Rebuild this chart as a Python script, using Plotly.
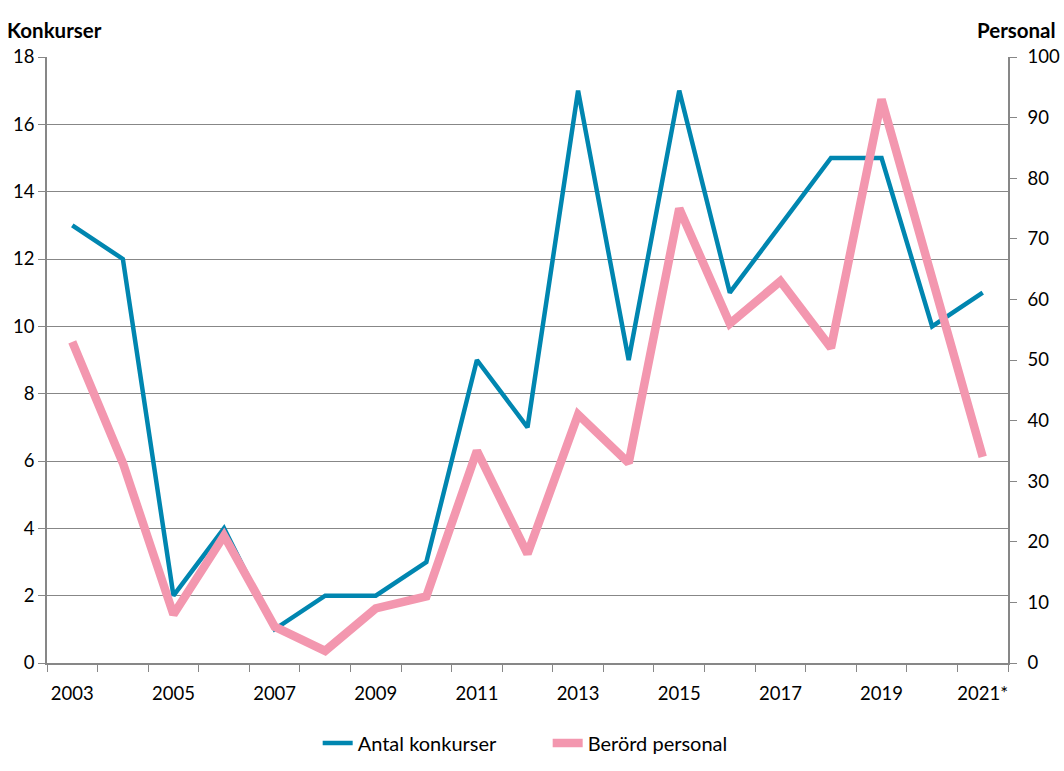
import plotly.graph_objects as go

years = ["2003", "2004", "2005", "2006", "2007", "2008", "2009", "2010", "2011",
         "2012", "2013", "2014", "2015", "2016", "2017", "2018", "2019", "2020", "2021*"]
antal_konkurser = [13, 12, 2, 4, 1, 2, 2, 3, 9, 7, 17, 9, 17, 11, 13, 15, 15, 10, 11]
berord_personal = [53, 33, 8, 21, 6, 2, 9, 11, 35, 18, 41, 33, 75, 56, 63, 52, 93, 63, 34]
tick_text = [y if i % 2 == 0 else "" for i, y in enumerate(years)]

BLUE = "#0086B0"
PINK = "#F397AF"
GRID = "#878787"
FONT = "Lato"

fig = go.Figure()
fig.add_trace(go.Scatter(x=years, y=antal_konkurser, name="Antal konkurser",
                         mode="lines", line=dict(color=BLUE, width=4.5),
                         yaxis="y"))
fig.add_trace(go.Scatter(x=years, y=berord_personal, name="Berörd personal",
                         mode="lines", line=dict(color=PINK, width=8.5),
                         yaxis="y2"))

fig.update_layout(
    width=1064, height=771,
    margin=dict(l=47, r=56, t=57, b=108),
    paper_bgcolor="white", plot_bgcolor="white",
    font=dict(family=FONT, size=18, color="black"),
    showlegend=True,
    legend=dict(orientation="h", x=0.521, xanchor="center",
                yref="container", y=1 - 743 / 771, yanchor="middle",
                font=dict(size=20), itemwidth=30, traceorder="normal",
                entrywidth=185, entrywidthmode="pixels"),
    xaxis=dict(type="category", range=[-0.5, 18.5], tickmode="array",
               tickvals=years, ticktext=tick_text, tickson="boundaries",
               ticks="outside", ticklen=7, tickcolor=GRID, showline=True,
               linecolor=GRID, linewidth=1.5, showgrid=False, zeroline=False,
               tickangle=0, automargin=False, ticklabelstandoff=13,
               tickfont=dict(size=18.5)),
    yaxis=dict(range=[0, 18], dtick=2, tick0=0, ticks="outside", ticklen=7,
               tickcolor=GRID, showline=True, linecolor=GRID, linewidth=1.5,
               showgrid=True, gridcolor=GRID, gridwidth=1, zeroline=False,
               automargin=False, tickfont=dict(size=18.5)),
    yaxis2=dict(range=[0, 100], dtick=10, tick0=0, overlaying="y", side="right",
                ticks="outside", ticklen=7, tickcolor=GRID, showline=True,
                linecolor=GRID, linewidth=1.5, showgrid=False, zeroline=False,
                automargin=False, ticklabelstandoff=7, tickfont=dict(size=18.5)),
    annotations=[
        dict(text="<b>Konkurser</b>", xref="paper", yref="paper", x=0, xanchor="left",
             xshift=-42, y=1, yanchor="bottom", yshift=13, showarrow=False,
             font=dict(size=20.5, family=FONT)),
        dict(text="<b>Personal</b>", xref="paper", yref="paper", x=1, xanchor="right",
             xshift=50, y=1, yanchor="bottom", yshift=13, showarrow=False,
             font=dict(size=20.5, family=FONT)),
    ],
)

fig.write_html("out.html", config={"displayModeBar": False},
               post_script="document.body.style.margin='0';document.body.style.overflow='hidden';")
